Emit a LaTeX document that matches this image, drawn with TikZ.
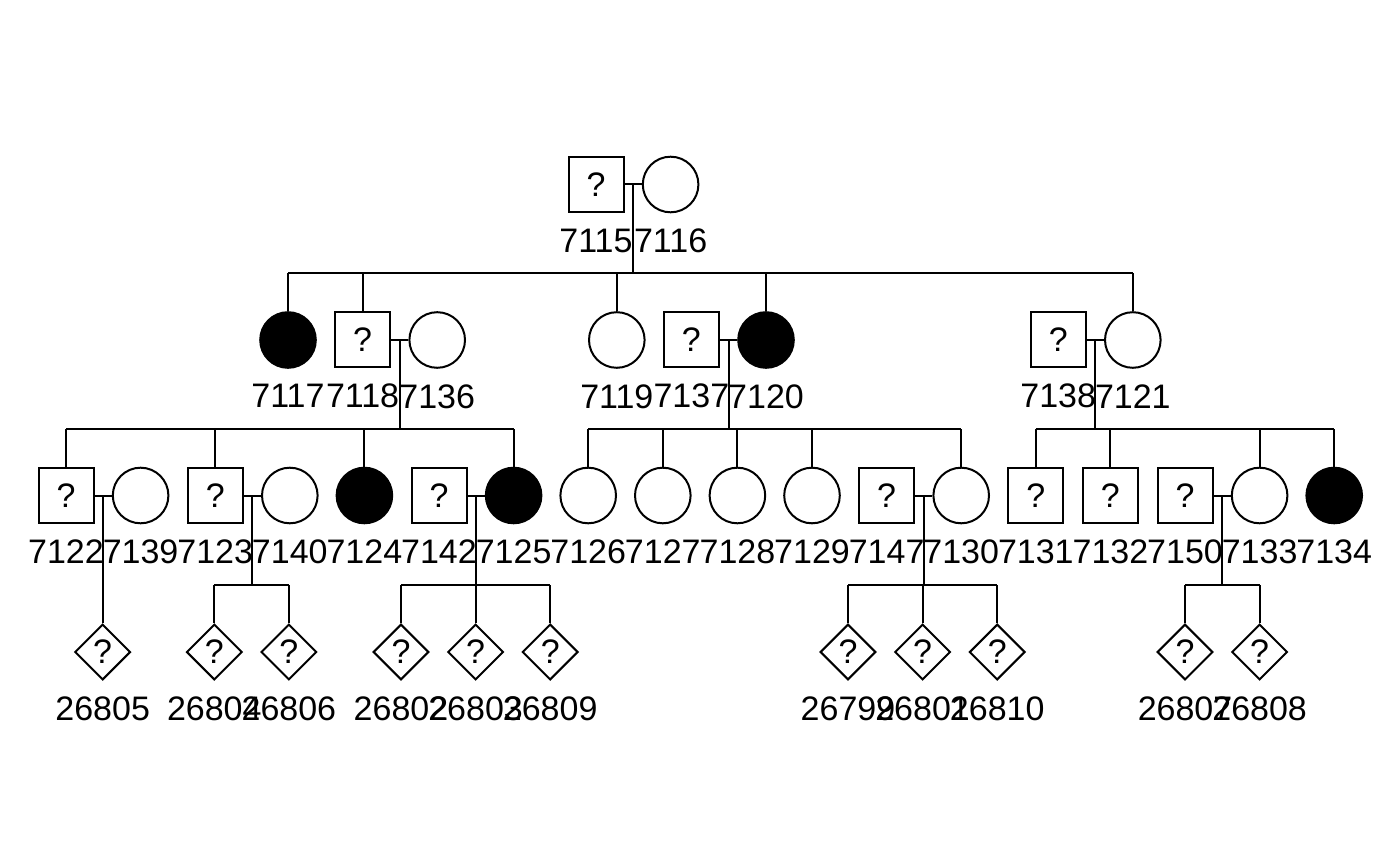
\documentclass[tikz,border=0pt]{standalone}
\usepackage{fontspec}
\setmainfont{Liberation Sans}
\usetikzlibrary{positioning, calc, shapes.geometric}

\tikzset{
    male/.style={draw, rectangle, minimum size=27.5pt, inner sep=0pt},
    female/.style={draw, circle, minimum size=27.8pt, inner sep=0pt},
    unknown/.style={draw, diamond, minimum size=27.8pt, inner sep=0pt},
    affected/.style={fill=black}
}

\begin{document}
\begin{tikzpicture}[x=0.5pt, y=-0.5pt, node distance=37.3pt, on grid,
    line width=1pt, label distance=4pt, font=\fontsize{17pt}{20pt}\selectfont]
    \useasboundingbox (0,0) rectangle (1400,865);

    % generation 1
    \node[male, label=below:7115] (i7115) at (596,184.5) {?};
    \node[female, label=below:7116] (i7116) [right=of i7115] {};

    % generation 2
    \node[female, affected, label=below:7117] (i7117) at (288,340) {};
    \node[male, label=below:7118] (i7118) [right=of i7117] {?};
    \node[female, label=below:7136] (i7136) [right=of i7118] {};
    \node[female, label=below:7119] (i7119) at (616.8,340) {};
    \node[male, label=below:7137] (i7137) [right=of i7119] {?};
    \node[female, affected, label=below:7120] (i7120) [right=of i7137] {};
    \node[male, label=below:7138] (i7138) at (1058.2,340) {?};
    \node[female, label=below:7121] (i7121) [right=of i7138] {};

    % generation 3
    \node[male, label=below:7122] (i7122) at (66,495.5) {?};
    \node[female, label=below:7139] (i7139) [right=of i7122] {};
    \node[male, label=below:7123] (i7123) [right=of i7139] {?};
    \node[female, label=below:7140] (i7140) [right=of i7123] {};
    \node[female, affected, label=below:7124] (i7124) [right=of i7140] {};
    \node[male, label=below:7142] (i7142) [right=of i7124] {?};
    \node[female, affected, label=below:7125] (i7125) [right=of i7142] {};
    \node[female, label=below:7126] (i7126) [right=of i7125] {};
    \node[female, label=below:7127] (i7127) [right=of i7126] {};
    \node[female, label=below:7128] (i7128) [right=of i7127] {};
    \node[female, label=below:7129] (i7129) [right=of i7128] {};
    \node[male, label=below:7147] (i7147) [right=of i7129] {?};
    \node[female, label=below:7130] (i7130) [right=of i7147] {};
    \node[male, label=below:7131] (i7131) [right=of i7130] {?};
    \node[male, label=below:7132] (i7132) [right=of i7131] {?};
    \node[male, label=below:7150] (i7150) [right=of i7132] {?};
    \node[female, label=below:7133] (i7133) [right=of i7150] {};
    \node[female, affected, label=below:7134] (i7134) [right=of i7133] {};

    % generation 4
    \node[unknown, label=below:26805] (i26805) at (102.7,652) {?};
    \node[unknown, label=below:26804] (i26804) at (214.3,652) {?};
    \node[unknown, label=below:26806] (i26806) [right=of i26804] {?};
    \node[unknown, label=below:26802] (i26802) at (401,652) {?};
    \node[unknown, label=below:26803] (i26803) [right=of i26802] {?};
    \node[unknown, label=below:26809] (i26809) [right=of i26803] {?};
    \node[unknown, label=below:26799] (i26799) at (848,652) {?};
    \node[unknown, label=below:26801] (i26801) [right=of i26799] {?};
    \node[unknown, label=below:26810] (i26810) [right=of i26801] {?};
    \node[unknown, label=below:26807] (i26807) at (1185,652) {?};
    \node[unknown, label=below:26808] (i26808) [right=of i26807] {?};

    % marriages
    \draw (i7115) -- (i7116);
    \draw (i7118) -- (i7136);
    \draw (i7137) -- (i7120);
    \draw (i7138) -- (i7121);
    \draw (i7122) -- (i7139);
    \draw (i7123) -- (i7140);
    \draw (i7142) -- (i7125);
    \draw (i7147) -- (i7130);
    \draw (i7150) -- (i7133);

    % family 7115 x 7116
    \coordinate (m7115) at ($(i7115.east)!.5!(i7116.west)$);
    \coordinate (s7115) at ($(m7115)+(0,89)$);
    \draw (m7115) -- (s7115);
    \draw (i7117 |- s7115) -- (i7121 |- s7115);
    \draw (i7117) -- (i7117 |- s7115);
    \draw (i7118) -- (i7118 |- s7115);
    \draw (i7119) -- (i7119 |- s7115);
    \draw (i7120) -- (i7120 |- s7115);
    \draw (i7121) -- (i7121 |- s7115);

    % family 7118 x 7136
    \coordinate (m7118) at ($(i7118.east)!.5!(i7136.west)$);
    \coordinate (s7118) at ($(m7118)+(0,89)$);
    \draw (m7118) -- (s7118);
    \draw (i7122 |- s7118) -- (i7125 |- s7118);
    \draw (i7122) -- (i7122 |- s7118);
    \draw (i7123) -- (i7123 |- s7118);
    \draw (i7124) -- (i7124 |- s7118);
    \draw (i7125) -- (i7125 |- s7118);

    % family 7137 x 7120
    \coordinate (m7137) at ($(i7137.east)!.5!(i7120.west)$);
    \coordinate (s7137) at ($(m7137)+(0,89)$);
    \draw (m7137) -- (s7137);
    \draw (i7126 |- s7137) -- (i7130 |- s7137);
    \draw (i7126) -- (i7126 |- s7137);
    \draw (i7127) -- (i7127 |- s7137);
    \draw (i7128) -- (i7128 |- s7137);
    \draw (i7129) -- (i7129 |- s7137);
    \draw (i7130) -- (i7130 |- s7137);

    % family 7138 x 7121
    \coordinate (m7138) at ($(i7138.east)!.5!(i7121.west)$);
    \coordinate (s7138) at ($(m7138)+(0,89)$);
    \draw (m7138) -- (s7138);
    \draw (i7131 |- s7138) -- (i7134 |- s7138);
    \draw (i7131) -- (i7131 |- s7138);
    \draw (i7132) -- (i7132 |- s7138);
    \draw (i7133) -- (i7133 |- s7138);
    \draw (i7134) -- (i7134 |- s7138);

    % family 7122 x 7139
    \coordinate (m7122) at ($(i7122.east)!.5!(i7139.west)$);
    \coordinate (s7122) at ($(m7122)+(0,89)$);
    \draw (m7122) -- (s7122);
    \draw (i26805) -- (i26805 |- s7122);

    % family 7123 x 7140
    \coordinate (m7123) at ($(i7123.east)!.5!(i7140.west)$);
    \coordinate (s7123) at ($(m7123)+(0,89)$);
    \draw (m7123) -- (s7123);
    \draw (i26804 |- s7123) -- (i26806 |- s7123);
    \draw (i26804) -- (i26804 |- s7123);
    \draw (i26806) -- (i26806 |- s7123);

    % family 7142 x 7125
    \coordinate (m7142) at ($(i7142.east)!.5!(i7125.west)$);
    \coordinate (s7142) at ($(m7142)+(0,89)$);
    \draw (m7142) -- (s7142);
    \draw (i26802 |- s7142) -- (i26809 |- s7142);
    \draw (i26802) -- (i26802 |- s7142);
    \draw (i26803) -- (i26803 |- s7142);
    \draw (i26809) -- (i26809 |- s7142);

    % family 7147 x 7130
    \coordinate (m7147) at ($(i7147.east)!.5!(i7130.west)$);
    \coordinate (s7147) at ($(m7147)+(0,89)$);
    \draw (m7147) -- (s7147);
    \draw (i26799 |- s7147) -- (i26810 |- s7147);
    \draw (i26799) -- (i26799 |- s7147);
    \draw (i26801) -- (i26801 |- s7147);
    \draw (i26810) -- (i26810 |- s7147);

    % family 7150 x 7133
    \coordinate (m7150) at ($(i7150.east)!.5!(i7133.west)$);
    \coordinate (s7150) at ($(m7150)+(0,89)$);
    \draw (m7150) -- (s7150);
    \draw (i26807 |- s7150) -- (i26808 |- s7150);
    \draw (i26807) -- (i26807 |- s7150);
    \draw (i26808) -- (i26808 |- s7150);
\end{tikzpicture}
\end{document}
